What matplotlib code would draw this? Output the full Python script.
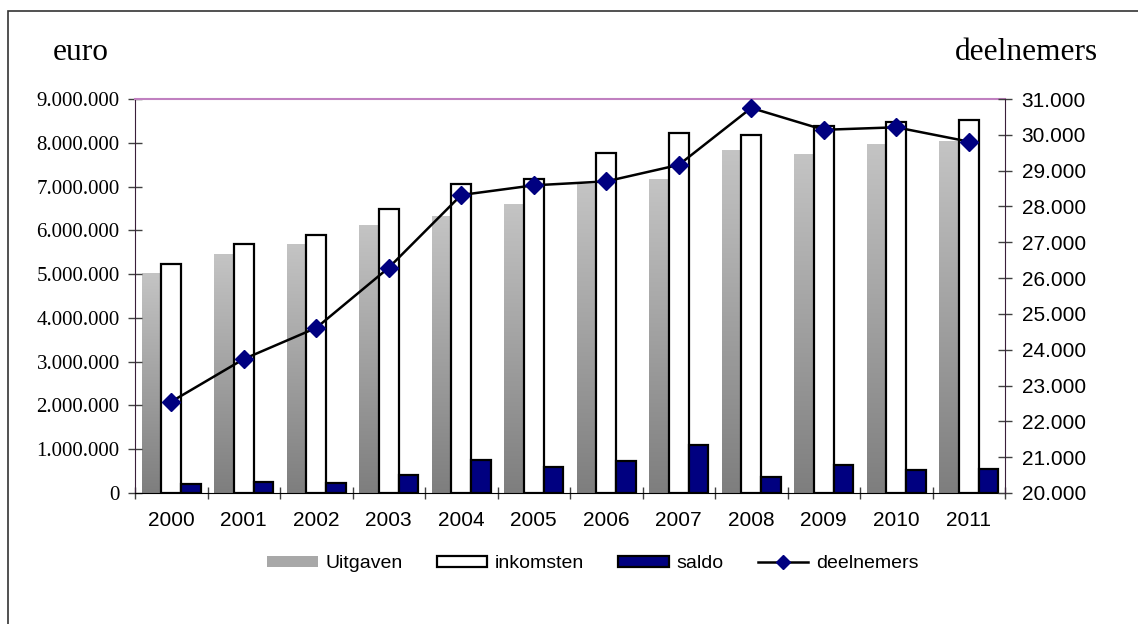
import numpy as np
import matplotlib
matplotlib.use('Agg')
from matplotlib import pyplot as plt
from matplotlib.colors import LinearSegmentedColormap
from matplotlib.patches import Patch, Rectangle
from matplotlib.lines import Line2D
from matplotlib.ticker import FuncFormatter

# Data
jaren = ['2000', '2001', '2002', '2003', '2004', '2005',
         '2006', '2007', '2008', '2009', '2010', '2011']
uitgaven = [5020000, 5440000, 5680000, 6100000, 6310000, 6600000,
            7050000, 7150000, 7830000, 7740000, 7970000, 8020000]
inkomsten = [5230000, 5680000, 5900000, 6480000, 7050000, 7180000,
             7760000, 8220000, 8180000, 8380000, 8480000, 8530000]
saldo = [210000, 250000, 230000, 400000, 750000, 590000,
         730000, 1090000, 360000, 650000, 520000, 550000]
deelnemers = [22550, 23740, 24610, 26290, 28320, 28590,
              28700, 29160, 30750, 30140, 30210, 29810]

W, H = 1138, 624
fig = plt.figure(figsize=(W / 100, H / 100), dpi=100)
ax = fig.add_axes([135 / W, 1 - 493 / H, 870 / W, 394 / H])

x = np.arange(len(jaren))
w = 0.27

# Uitgaven: grijze verloop-balken
cmap = LinearSegmentedColormap.from_list('grijs', ['#c4c4c4', '#7e7e7e'])
grad = np.linspace(0, 1, 256).reshape(-1, 1)
for i in range(len(jaren)):
    ax.imshow(grad, cmap=cmap, extent=(x[i] - 1.5 * w, x[i] - 0.5 * w, 0, uitgaven[i]),
              aspect='auto', origin='upper', zorder=1)

ax.bar(x, inkomsten, w, facecolor='white', edgecolor='black', linewidth=1.6, zorder=2)
ax.bar(x + w, saldo, w, facecolor='#000080', edgecolor='black', linewidth=1.6, zorder=2)

ax.set_xlim(-0.5, len(jaren) - 0.5)
ax.set_ylim(0, 9000000)

fmt = FuncFormatter(lambda v, p: f'{v:,.0f}'.replace(',', '.'))
ax.set_yticks(np.arange(0, 9000001, 1000000))
ax.yaxis.set_major_formatter(fmt)
ax.tick_params(axis='y', direction='inout', length=10, width=1, pad=6, labelsize=15,
               color='#404040')
for t in ax.get_yticklabels():
    t.set_family('Liberation Serif')

ax.set_xticks(np.arange(-0.5, len(jaren), 1.0))
ax.set_xticklabels([])
ax.set_xticks(x, minor=True)
ax.set_xticklabels(jaren, minor=True, family='Liberation Sans', fontsize=15)
ax.tick_params(axis='x', which='major', direction='inout', length=9, width=1, color='#404040')
ax.tick_params(axis='x', which='minor', length=0, pad=13)

ax.spines['top'].set_color('#c080c0')
ax.spines['top'].set_linewidth(1.5)
ax.spines['left'].set_color('#3a1f3a')
ax.spines['bottom'].set_color('black')
ax.spines['right'].set_visible(False)

# deelnemers op tweede as
ax2 = ax.twinx()
ax2.plot(x, deelnemers, color='black', linewidth=1.8, marker='D', markersize=9.5,
         markerfacecolor='#000080', markeredgecolor='#000080', zorder=5)
ax2.set_ylim(20000, 31000)
ax2.set_yticks(np.arange(20000, 31001, 1000))
ax2.yaxis.set_major_formatter(fmt)
ax2.tick_params(axis='y', direction='inout', length=10, width=1, pad=7, labelsize=15,
                color='#404040')
for t in ax2.get_yticklabels():
    t.set_family('Liberation Sans')
for s in ['top', 'left', 'bottom']:
    ax2.spines[s].set_visible(False)
ax2.spines['right'].set_color('#3a1f3a')

fig.text(81 / W, 1 - 60 / H, 'euro', ha='center', va='baseline',
         fontsize=22.6, family='Liberation Serif')
fig.text(1098 / W, 1 - 60 / H, 'deelnemers', ha='right', va='baseline',
         fontsize=22.6, family='Liberation Serif')

# Kader rond de figuur
fig.patches.append(Rectangle((8 / W, -0.1), 2, 1.1 - 11 / H, transform=fig.transFigure,
                             fill=False, edgecolor='#333333', linewidth=1.2))

handles = [Patch(facecolor='#a8a8a8', edgecolor='none', label='Uitgaven'),
           Patch(facecolor='white', edgecolor='black', linewidth=1.6, label='inkomsten'),
           Patch(facecolor='#000080', edgecolor='black', linewidth=1.6, label='saldo'),
           Line2D([], [], color='black', linewidth=1.8, marker='D', markersize=7,
                  markerfacecolor='#000080', markeredgecolor='#000080', label='deelnemers')]
fig.legend(handles=handles, loc='center', bbox_to_anchor=(593 / W, 1 - 564 / H), ncol=4,
           frameon=False, handlelength=2.6, handleheight=0.45, handletextpad=0.4,
           columnspacing=1.75, prop={'family': 'Liberation Sans', 'size': 14})

fig.savefig('out.png', dpi=100)
